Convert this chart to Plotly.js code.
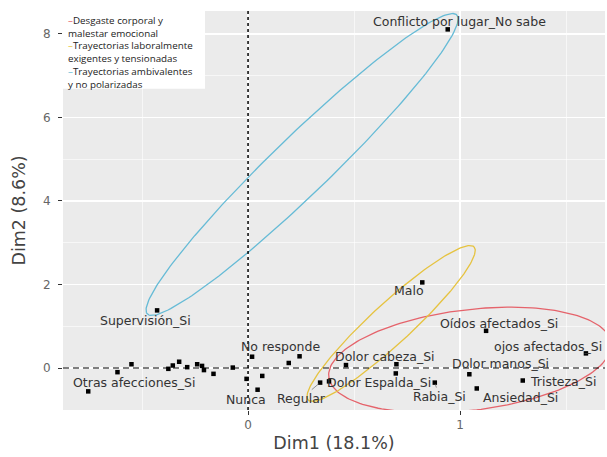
<!DOCTYPE html>
<html>
<head>
<meta charset="utf-8">
<script src="https://cdn.plot.ly/plotly-3.0.1.min.js"></script>
<style>html,body{margin:0;padding:0;background:#fff;}#chart{width:607px;height:457px;}</style>
</head>
<body>
<div id="chart"></div>
<script>
// ---- Data ----
const pointLabels = [
  "Conflicto por lugar_No sabe", "Supervisión_Si", "Malo", "Oídos afectados_Si",
  "ojos afectados_Si", "Dolor manos_Si", "Tristeza_Si", "Ansiedad_Si", "Rabia_Si",
  "Dolor cabeza_Si", "Dolor Espalda_Si", "Regular", "Nunca", "No responde",
  "Otras afecciones_Si",
  "", "", "", "", "", "", "", "", "", "", "", "", "", "", "", "", ""
];
const dim1 = [
  0.942, -0.429, 0.822, 1.123,
  1.594, 1.044, 1.296, 1.079, 0.881,
  0.462, 0.382, 0.340, 0.045, 0.019,
  -0.754,
  0.700, 0.697, 0.243, 0.192, 0.067, -0.007, -0.072, -0.163, -0.208, -0.217,
  -0.240, -0.287, -0.325, -0.355, -0.376, -0.550, -0.616
];
const dim2 = [
  8.11, 1.38, 2.05, 0.89,
  0.35, -0.15, -0.30, -0.49, -0.35,
  0.07, -0.32, -0.35, -0.52, 0.27,
  -0.56,
  0.09, -0.13, 0.28, 0.12, -0.19, -0.26, 0.01, -0.14, -0.05, 0.05,
  0.09, 0.02, 0.15, 0.06, -0.02, 0.09, -0.10
];

// Confidence ellipses: centre and two conjugate semi-axis vectors (data units)
const ellipseNames = ["Desgaste corporal y malestar emocional",
                      "Trayectorias laboralmente exigentes y tensionadas",
                      "Trayectorias ambivalentes y no polarizadas"];
const ellipseCx = [1.047, 0.675, 0.255];
const ellipseCy = [0.192, 1.066, 4.874];
const ellipseUx = [0.660, 0.3915, 0.730];
const ellipseUy = [0.527, 1.832, 3.581];
const ellipseVx = [-0.0943, 0.0646, 0.0947];
const ellipseVy = [1.150, -0.356, -0.501];

const xTitle = "Dim1 (18.1%)";
const yTitle = "Dim2 (8.6%)";

// ---- Styles / label placement (pixels) ----
const ellipseColors = ["#E5636B", "#E6C340", "#66BBD6"];
const labelOffsets = [
  [12, 8], [-12, -10], [-13, -8], [13, 7],
  [-38, 7], [31, 11], [40, -1], [44, -9], [4.5, -14],
  [39.5, 9], [50, -1], [-19, -16], [-11.5, -10], [28, 10],
  [46, 9]
];
const connectorLabels = {"Rabia_Si": true, "Regular": true};

const traces = [];
for (let k = 0; k < ellipseNames.length; k++) {
  const ex = [], ey = [];
  const n = 200;
  for (let i = 0; i <= n; i++) {
    const t = 2 * Math.PI * i / n;
    ex.push(ellipseCx[k] + ellipseUx[k] * Math.cos(t) + ellipseVx[k] * Math.sin(t));
    ey.push(ellipseCy[k] + ellipseUy[k] * Math.cos(t) + ellipseVy[k] * Math.sin(t));
  }
  traces.push({x: ex, y: ey, type: "scatter", mode: "lines", name: ellipseNames[k],
    line: {color: ellipseColors[k], width: 1.3}, hoverinfo: "skip", showlegend: false});
}
traces.push({x: dim1, y: dim2, text: pointLabels, type: "scatter", mode: "markers",
  marker: {symbol: "square", size: 4.5, color: "#000"}, showlegend: false});

const annotations = [];
pointLabels.forEach((lab, i) => {
  if (!lab) return;
  const off = labelOffsets[i];
  const a = {x: dim1[i], y: dim2[i], xref: "x", yref: "y", text: lab,
    font: {family: "DejaVu Sans", size: 12.5, color: "#333"}};
  if (connectorLabels[lab]) {
    Object.assign(a, {showarrow: true, ax: off[0], ay: -off[1], arrowhead: 0,
      arrowwidth: 0.8, arrowcolor: "#777", standoff: 2});
  } else {
    Object.assign(a, {showarrow: false, xshift: off[0], yshift: off[1]});
  }
  annotations.push(a);
});

const legendText =
  '<span style="color:' + ellipseColors[0] + '">–</span>Desgaste corporal y<br>malestar emocional<br>' +
  '<span style="color:' + ellipseColors[1] + '">–</span>Trayectorias laboralmente<br>exigentes y tensionadas<br>' +
  '<span style="color:' + ellipseColors[2] + '">–</span>Trayectorias ambivalentes<br>y no polarizadas';
annotations.push({xref: "paper", yref: "paper", x: 0.006, y: 0.997, xanchor: "left", yanchor: "top",
  align: "left", showarrow: false, text: legendText,
  font: {family: "Open Sans", size: 9.8, color: "#222"}});

const layout = {
  width: 607, height: 457,
  margin: {l: 63, r: 2, t: 11, b: 47},
  paper_bgcolor: "#fff", plot_bgcolor: "#EBEBEB",
  showlegend: false,
  xaxis: {range: [-0.873, 1.684], dtick: 1, tick0: 0, zeroline: false,
    showgrid: true, gridcolor: "#fff", gridwidth: 1.3,
    minor: {dtick: 0.5, tick0: 0, showgrid: true, gridcolor: "#fff", gridwidth: 0.6},
    ticks: "outside", ticklen: 4, tickcolor: "#333", tickwidth: 1,
    tickfont: {family: "DejaVu Sans", size: 12, color: "#666"},
    title: {text: xTitle, standoff: 5, font: {family: "DejaVu Sans", size: 17.5, color: "#444"}}},
  yaxis: {range: [-1.006, 8.55], dtick: 2, tick0: 0, zeroline: false,
    showgrid: true, gridcolor: "#fff", gridwidth: 1.3,
    minor: {dtick: 1, tick0: 0, showgrid: true, gridcolor: "#fff", gridwidth: 0.6},
    ticks: "outside", ticklen: 4, tickcolor: "#333", tickwidth: 1, ticklabelstandoff: 5,
    tickfont: {family: "DejaVu Sans", size: 12, color: "#666"},
    title: {text: yTitle, standoff: 12, font: {family: "DejaVu Sans", size: 17.5, color: "#444"}}},
  shapes: [
    {type: "line", xref: "paper", yref: "y", x0: 0, x1: 1, y0: 0, y1: 0, layer: "above",
      line: {color: "#000", width: 1.2, dash: "6px,4px"}},
    {type: "line", xref: "x", yref: "paper", x0: 0, x1: 0, y0: 0, y1: 1, layer: "above",
      line: {color: "#000", width: 1.5, dash: "3px,3px"}},
    {type: "rect", xref: "paper", yref: "paper", x0: 0, x1: 0.262, y0: 0.805, y1: 1, layer: "above",
      fillcolor: "#fff", line: {width: 0}}
  ],
  annotations: annotations
};

Plotly.newPlot("chart", traces, layout, {displayModeBar: false, staticPlot: true});
</script>
</body>
</html>
